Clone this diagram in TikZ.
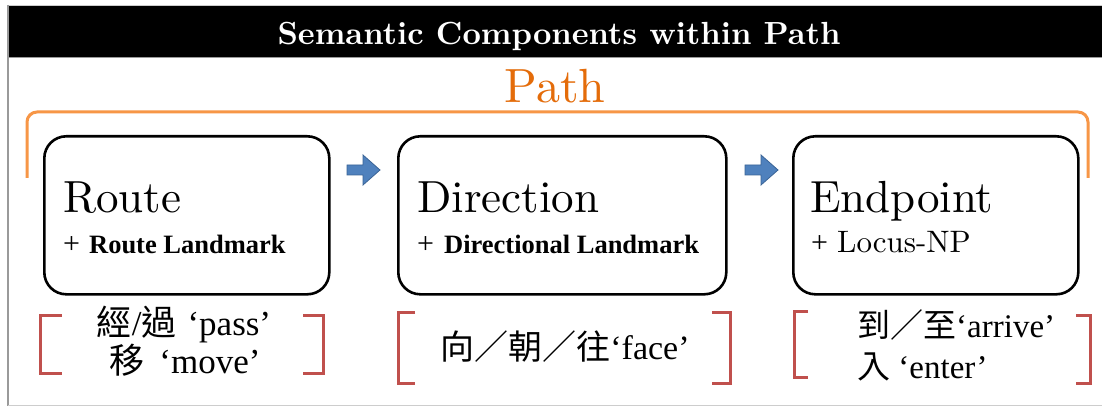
\documentclass[tikz,border=0pt]{standalone}
\usepackage{fontspec}
\setmainfont{lmroman10-regular}[Extension=.otf, BoldFont=lmroman10-bold,
  ItalicFont=lmroman10-italic]
\newfontfamily\tnr{Liberation Serif}
\newfontfamily\cjk{Noto Sans CJK TC}
\definecolor{pathorange}{HTML}{E46C0A}
\definecolor{braceorange}{HTML}{F79646}
\definecolor{arrowblue}{HTML}{4F81BD}
\definecolor{arrowedge}{HTML}{3A6496}
\definecolor{bracketred}{HTML}{C0504D}
\definecolor{framegray}{HTML}{9A9A9A}

\tikzset{
  comp/.style={draw=black, line width=2.6pt, rounded corners=22pt,
    minimum height=158pt, inner sep=0pt, anchor=north west},
  headtext/.style={anchor=base west, inner sep=0pt,
    font=\fontsize{45}{50}\selectfont},
  subtext/.style={anchor=base west, inner sep=0pt},
  gloss/.style={inner sep=0pt, font=\tnr\fontsize{34}{38}\selectfont},
  redbr/.style={draw=bracketred, line width=3pt},
  blockarrow/.pic={
    \filldraw[fill=arrowblue, draw=arrowedge, line width=0.8pt]
      (0,-5) -- (16,-5) -- (16,-15) -- (33,0) -- (16,15) -- (16,5) -- (0,5) -- cycle;
  }
}

\newcommand{\plussign}{{\tnr\fontsize{30}{34}\selectfont +}}

\begin{document}
\begin{tikzpicture}[x=1pt, y=-1pt]
\useasboundingbox (0,0) rectangle (1102,406);
\fill[white] (0,0) rectangle (1102,406);

% outer frame and title bar
\draw[framegray!50, line width=1pt] (7,5.5) -- (1102,5.5);
\fill[black] (8,6) rectangle (1102,57);
\draw[framegray, line width=1.2pt] (8,57.6) -- (1102,57.6);
\draw[framegray, line width=1.5pt] (8,5) -- (8,406);
\draw[framegray!50, line width=1pt] (8,405) -- (1102,405);

\node[text=white, anchor=base, inner sep=0pt,
      font=\bfseries\fontsize{32}{36}\selectfont] (title) at (559,45)
  {Semantic Components within Path};

% overall Path bracket
\node[text=pathorange, anchor=base, inner sep=0pt,
      font=\fontsize{48}{54}\selectfont] (pathlabel) at (555,103) {Path};
\draw[braceorange, line width=3pt, rounded corners=10pt]
  (27,178) -- (27,112) -- (1088,112) -- (1088,178);

% the three components
\node[comp, minimum width=285pt] (route) at (43,135) {};
\node[comp, minimum width=328pt] (direction) at (397,135) {};
\node[comp, minimum width=285pt] (endpoint) at (792,135) {};

\node[headtext] (routeT) at (63,212) {Route};
\node[subtext] (routeS) at (63,253)
  {\plussign\hspace{9pt}{\tnr\bfseries\fontsize{26.5}{30}\selectfont Route Landmark}};

\node[headtext] (directionT) at (417,212) {Direction};
\node[subtext] (directionS) at (417,253)
  {\plussign\hspace{10pt}{\tnr\bfseries\fontsize{26.5}{30}\selectfont Directional Landmark}};

\node[headtext] (endpointT) at (810,212) {Endpoint};
\node[subtext] (endpointS) at (811,252)
  {\plussign\hspace{9pt}{\fontsize{31}{34}\selectfont Locus-NP}};

% block arrows between the components
\pic at (347,170) {blockarrow};
\pic at (745,170) {blockarrow};

% lexical verbs in red brackets
\draw[redbr] (62,315) -- (40,315) -- (40,373) -- (62,373);
\draw[redbr] (303,315) -- (323,315) -- (323,373) -- (303,373);
\node[gloss, anchor=base, font=\tnr\fontsize{35}{38}\selectfont] (routeV1) at (184,335)
  {{\cjk 經}/{\cjk 過}\hspace{11pt}‘pass’};
\node[gloss, anchor=base, font=\tnr\fontsize{35}{38}\selectfont] (routeV2) at (185,373)
  {{\cjk 移}\hspace{15pt}‘move’};

\draw[redbr] (415,312) -- (398,312) -- (398,383) -- (415,383);
\draw[redbr] (712,312) -- (730,312) -- (730,383) -- (712,383);
\node[gloss, anchor=base] (directionV) at (565,359)
  {{\cjk 向／朝／往}‘face’};

\draw[redbr] (808,311) -- (794,311) -- (794,377) -- (808,377);
\draw[redbr] (1076,315) -- (1090,315) -- (1090,383) -- (1076,383);
\node[gloss, anchor=base west, font=\tnr\fontsize{33}{38}\selectfont] (endpointV1) at (857,337)
  {{\cjk 到／至}‘arrive’};
\node[gloss, anchor=base west, font=\tnr\fontsize{33}{38}\selectfont] (endpointV2) at (857,378)
  {{\cjk 入} ‘enter’};
\end{tikzpicture}
\end{document}
